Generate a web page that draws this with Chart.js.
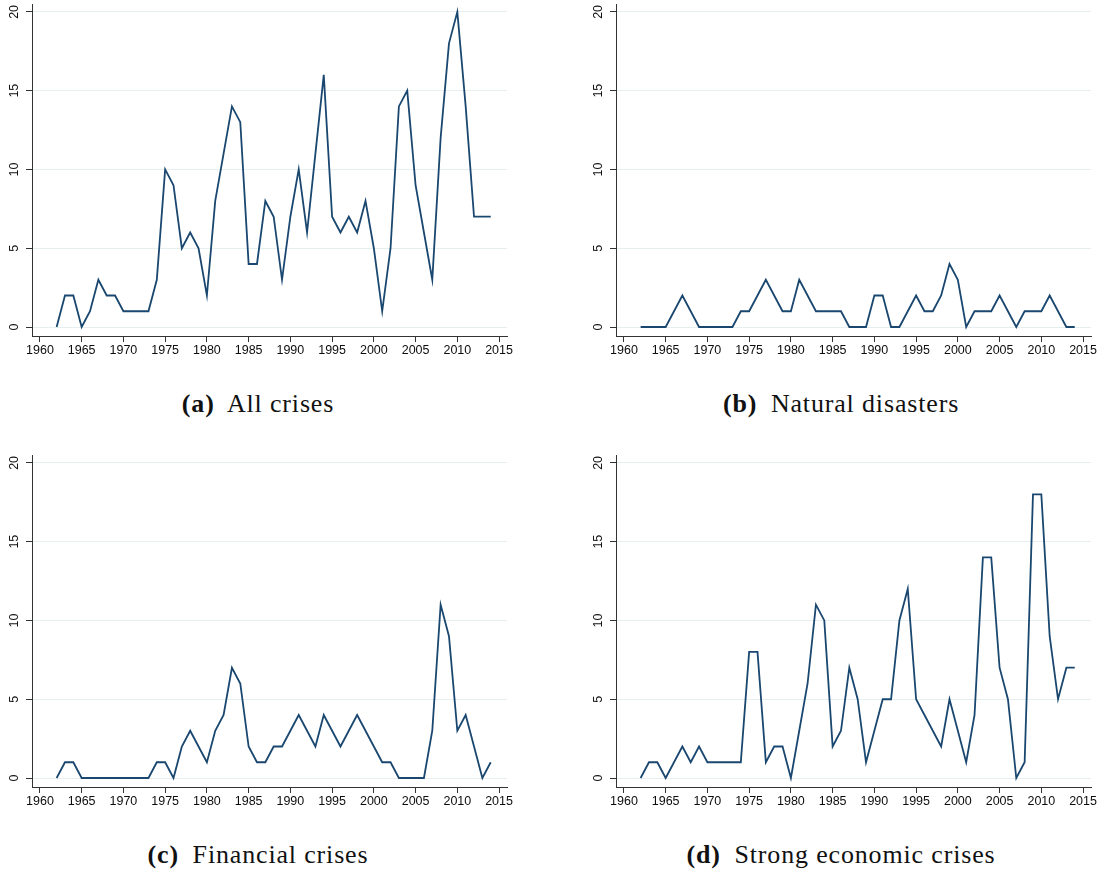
<!DOCTYPE html>
<html>
<head>
<meta charset="utf-8">
<script src="https://cdn.jsdelivr.net/npm/chart.js@4.4.1/dist/chart.umd.min.js"></script>
<style>
  html, body { margin: 0; padding: 0; background: #ffffff; }
  body { width: 1102px; height: 875px; position: relative; overflow: hidden; }
  .panel { position: absolute; width: 518px; height: 360px; }
  .caption {
    position: absolute; width: 520px; text-align: center;
    font-family: "Liberation Serif", "Times New Roman", serif;
    font-size: 24.5px; letter-spacing: 0.8px; color: #111; white-space: nowrap;
    transform: scaleX(1.06); transform-origin: center;
  }
  .caption b { margin-right: 6px; }
</style>
</head>
<body>
<canvas id="chartA" class="panel" width="518" height="360" style="left:0px;top:0px"></canvas>
<canvas id="chartB" class="panel" width="518" height="360" style="left:584px;top:0px"></canvas>
<canvas id="chartC" class="panel" width="518" height="360" style="left:0px;top:451px"></canvas>
<canvas id="chartD" class="panel" width="518" height="360" style="left:584px;top:451px"></canvas>

<div class="caption" style="left:-2px;top:390px"><b>(a)</b> All crises</div>
<div class="caption" style="left:581px;top:390px"><b>(b)</b> Natural disasters</div>
<div class="caption" style="left:-2px;top:841px"><b>(c)</b> Financial crises</div>
<div class="caption" style="left:581px;top:841px"><b>(d)</b> Strong economic crises</div>

<script>
// Years covered by every series
const years = [1962, 1963, 1964, 1965, 1966, 1967, 1968, 1969, 1970, 1971,
               1972, 1973, 1974, 1975, 1976, 1977, 1978, 1979, 1980, 1981,
               1982, 1983, 1984, 1985, 1986, 1987, 1988, 1989, 1990, 1991,
               1992, 1993, 1994, 1995, 1996, 1997, 1998, 1999, 2000, 2001,
               2002, 2003, 2004, 2005, 2006, 2007, 2008, 2009, 2010, 2011,
               2012, 2013, 2014];

// Number of crises per year
const allCrises = [0, 2, 2, 0, 1, 3, 2, 2, 1, 1,
                   1, 1, 3, 10, 9, 5, 6, 5, 2, 8,
                   11, 14, 13, 4, 4, 8, 7, 3, 7, 10,
                   6, 11, 16, 7, 6, 7, 6, 8, 5, 1,
                   5, 14, 15, 9, 6, 3, 12, 18, 20, 14,
                   7, 7, 7];

const naturalDisasters = [0, 0, 0, 0, 1, 2, 1, 0, 0, 0,
                          0, 0, 1, 1, 2, 3, 2, 1, 1, 3,
                          2, 1, 1, 1, 1, 0, 0, 0, 2, 2,
                          0, 0, 1, 2, 1, 1, 2, 4, 3, 0,
                          1, 1, 1, 2, 1, 0, 1, 1, 1, 2,
                          1, 0, 0];

const financialCrises = [0, 1, 1, 0, 0, 0, 0, 0, 0, 0,
                         0, 0, 1, 1, 0, 2, 3, 2, 1, 3,
                         4, 7, 6, 2, 1, 1, 2, 2, 3, 4,
                         3, 2, 4, 3, 2, 3, 4, 3, 2, 1,
                         1, 0, 0, 0, 0, 3, 11, 9, 3, 4,
                         2, 0, 1];

const strongEconomicCrises = [0, 1, 1, 0, 1, 2, 1, 2, 1, 1,
                              1, 1, 1, 8, 8, 1, 2, 2, 0, 3,
                              6, 11, 10, 2, 3, 7, 5, 1, 3, 5,
                              5, 10, 12, 5, 4, 3, 2, 5, 3, 1,
                              4, 14, 14, 7, 5, 0, 1, 18, 18, 9,
                              5, 7, 7];

// Axis tick labels
const xTicks = [1960, 1965, 1970, 1975, 1980, 1985, 1990, 1995, 2000, 2005, 2010, 2015];
const yTicks = [0, 5, 10, 15, 20];

const lineColor = '#1a476f';
const axisColor = '#333333';
const gridColor = '#e6eff0';
const labelColor = '#0d0d0d';
const tickFont = { family: "'Liberation Sans', Arial, sans-serif", size: 12.5 };

function drawPanel(canvasId, values) {
  const points = years.map((yr, i) => ({ x: yr, y: values[i] }));
  return new Chart(document.getElementById(canvasId), {
    type: 'line',
    data: {
      datasets: [{
        data: points,
        borderColor: lineColor,
        borderWidth: 1.8,
        pointRadius: 0,
        tension: 0,
        fill: false
      }]
    },
    options: {
      responsive: false,
      animation: false,
      devicePixelRatio: 1,
      layout: { padding: { top: 4, left: 0, right: 11, bottom: 0 } },
      plugins: { legend: { display: false }, tooltip: { enabled: false }, title: { display: false } },
      scales: {
        x: {
          type: 'linear',
          min: 1959.05,
          max: 2015.95,
          afterBuildTicks: s => { s.ticks = xTicks.map(v => ({ value: v })); },
          afterFit: s => { s.height = 24; s.paddingLeft = 0; s.paddingRight = 0; },
          grid: { drawOnChartArea: false, drawTicks: true, tickLength: 6, tickColor: axisColor, tickWidth: 1 },
          border: { display: true, color: axisColor, width: 1 },
          ticks: {
            font: tickFont, color: labelColor, padding: 1,
            minRotation: 0, maxRotation: 0, autoSkip: false,
            callback: v => String(v)
          }
        },
        y: {
          type: 'linear',
          min: -0.57,
          max: 20.5,
          afterBuildTicks: s => { s.ticks = yTicks.map(v => ({ value: v })); },
          afterFit: s => { s.width = 32; s.paddingTop = 0; s.paddingBottom = 0; },
          grid: { drawOnChartArea: true, color: gridColor, lineWidth: 1, drawTicks: true, tickLength: 6, tickColor: axisColor, tickWidth: 1 },
          border: { display: true, color: axisColor, width: 1 },
          ticks: {
            font: tickFont, color: labelColor, padding: 5,
            minRotation: 90, maxRotation: 90, crossAlign: 'center',
            callback: v => String(v)
          }
        }
      }
    }
  });
}

drawPanel('chartA', allCrises);
drawPanel('chartB', naturalDisasters);
drawPanel('chartC', financialCrises);
drawPanel('chartD', strongEconomicCrises);
</script>
</body>
</html>
